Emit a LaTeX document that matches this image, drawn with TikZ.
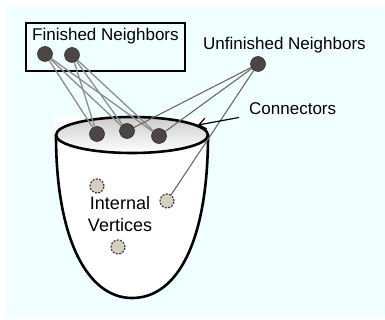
\documentclass[tikz,border=0pt]{standalone}
\usepackage{fontspec}
\setmainfont{Liberation Sans}
\usepackage{xcolor}
\usetikzlibrary{arrows.meta,positioning,shapes.geometric}

\definecolor{vtxdark}{HTML}{4B4643}
\definecolor{vtxin}{HTML}{D6CEC1}
\definecolor{bgcyan}{HTML}{F0FFFF}
\definecolor{fedge}{HTML}{8C8C8C}
\definecolor{uedge}{HTML}{6E6661}

\begin{document}
\begin{tikzpicture}[x=1pt, y=-1pt,
  vtx/.style={circle, draw=black!85, fill=vtxdark, minimum size=15pt,
    inner sep=0pt, line width=0.5pt},
  invtx/.style={circle, draw=black!80, dash pattern=on 2pt off 1.4pt,
    fill=vtxin, minimum size=14pt, inner sep=0pt, line width=1.1pt},
  lbl/.style={font=\fontsize{17}{20}\selectfont, inner sep=0pt},
  finedge/.style={draw=fedge, line width=1.3pt},
  unfedge/.style={draw=uedge, line width=1.1pt},
  rim/.style={line width=2.6pt},
  arr/.style={-{Straight Barb[length=7pt, width=11pt]}, line width=1.2pt},
]
  \useasboundingbox (0,0) rectangle (385,320);
  \fill[bgcyan] (6,6) rectangle (385,318);
  \fill[white] (55,116) rectangle (208,140);

  % bowl body and rim
  \draw[rim, fill=white] (56,135) .. controls (56,240) and (88,298) .. (132,298)
    .. controls (178,298) and (208,240) .. (208,135);
  \draw[rim, top color=gray!40, bottom color=white]
    (132,135) ellipse [x radius=76pt, y radius=18pt];

  % finished side
  \node[draw, line width=1.2pt, minimum width=159pt, minimum height=48pt,
    inner sep=0pt] (finbox) at (105.5,47) {};
  \node[lbl, anchor=base west] (finlbl) at (32,41) {Finished Neighbors};
  \node[vtx] (f1) at (45,54) {};
  \node[vtx] (f2) at (72,55) {};

  % unfinished side
  \node[lbl, anchor=base west] (unflbl) at (203,50) {Unfinished Neighbors};
  \node[vtx] (u1) at (258,64) {};

  % connectors on the rim
  \node[vtx] (c1) at (97,134) {};
  \node[vtx] (c2) at (127,131) {};
  \node[vtx] (c3) at (159,136) {};
  \node[lbl, anchor=base west] (connlbl) at (249,114.3) {Connectors};
  \coordinate (arrtail) at (239,117.5);
  \coordinate (rimpt) at (198,125);

  % internal vertices
  \node[invtx] (i1) at (97,186) {};
  \node[invtx] (i2) at (167,201) {};
  \node[invtx] (i3) at (118,247) {};
  \node[font=\fontsize{18}{21.5}\selectfont, align=center, inner sep=0pt,
    anchor=north] (intlbl) at (120,196.5) {Internal\\Vertices};

  % edges
  \foreach \f in {f1,f2}
    \foreach \c in {c1,c2,c3}
      \draw[finedge] (\f) -- (\c);
  \foreach \t in {c2,c3,i2}
    \draw[unfedge] (u1) -- (\t);

  \draw[arr] (arrtail) -- (rimpt);
\end{tikzpicture}
\end{document}
